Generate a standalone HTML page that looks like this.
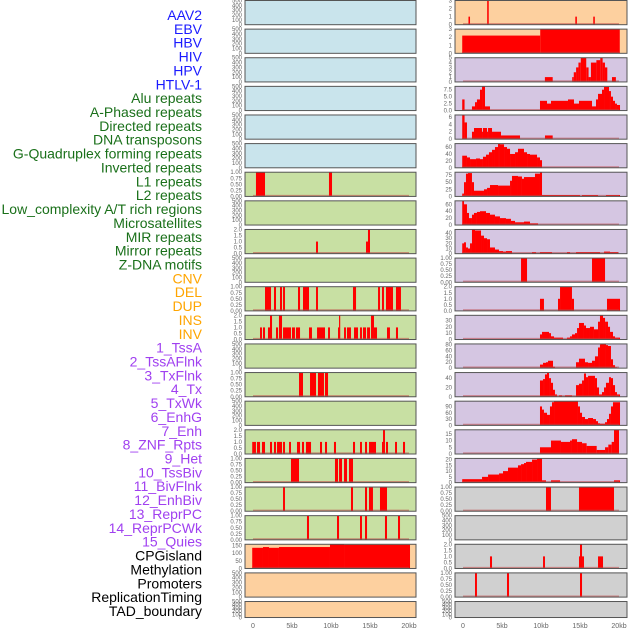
<!DOCTYPE html>
<html><head><meta charset="utf-8"><style>
html,body{margin:0;padding:0;background:#fff;}
svg{display:block;font-family:"Liberation Sans",sans-serif;}
</style></head><body>
<svg id="chart" width="630" height="630" viewBox="0 0 630 630"></svg>
<script>
const labels = ["AAV2","EBV","HBV","HIV","HPV","HTLV-1","Alu repeats","A-Phased repeats","Directed repeats","DNA transposons","G-Quadruplex forming repeats","Inverted repeats","L1 repeats","L2 repeats","Low_complexity A/T rich regions","Microsatellites","MIR repeats","Mirror repeats","Z-DNA motifs","CNV","DEL","DUP","INS","INV","1_TssA","2_TssAFlnk","3_TxFlnk","4_Tx","5_TxWk","6_EnhG","7_Enh","8_ZNF_Rpts","9_Het","10_TssBiv","11_BivFlnk","12_EnhBiv","13_ReprPC","14_ReprPCWk","15_Quies","CPGisland","Methylation","Promoters","ReplicationTiming","TAD_boundary"];
const labelGroups = ["v","v","v","v","v","v","r","r","r","r","r","r","r","r","r","r","r","r","r","s","s","s","s","s","c","c","c","c","c","c","c","c","c","c","c","c","c","c","c","o","o","o","o","o"];
const xTicks = [0,5,10,15,20];
const xTickLabels = ["0","5kb","10kb","15kb","20kb"];
const tEmpty=[0,100,200,300,400,500], tQ=[0,0.25,0.5,0.75,1], tH=[0,0.5,1,1.5,2];
const tQL=["0.00","0.25","0.50","0.75","1.00"], tHL=["0.0","0.5","1.0","1.5","2.0"];
const leftData = [
 [],[],[],[],[],[],
 [[0.38,1.54,1],[9.74,10.13,1]],
 [],
 [[8.08,8.33,1],[14.49,14.74,1],[14.74,15.0,2]],
 [],
 [[1.54,2.31,1],[2.69,2.95,1],[3.46,3.72,1],[3.85,4.1,1],[5.77,6.03,1],[6.41,7.18,1],[8.08,8.33,1],[12.82,13.21,1],[16.03,16.28,1],[16.54,16.79,1],[17.05,17.95,1],[18.33,18.97,1]],
 [[0.9,1.15,1],[1.28,1.54,1],[1.92,2.18,1],[2.18,2.44,2],[2.95,3.21,1],[3.33,3.72,2],[3.85,4.87,1],[5.0,5.38,1],[5.51,6.03,1],[7.18,7.56,1],[8.21,9.23,1],[9.62,9.87,1],[10.9,11.03,1],[11.03,11.15,2],[11.67,11.92,1],[12.05,12.56,1],[12.95,13.46,1],[13.72,13.97,1],[14.1,14.49,1],[14.62,15.0,1],[15.13,15.51,2],[15.51,15.9,1],[17.18,17.56,1],[18.33,18.59,1]],
 [],
 [[5.9,6.41,1],[7.31,8.08,1],[8.33,9.1,1],[9.23,9.62,1]],
 [],
 [[-0.1,0.38,1],[0.51,0.9,1],[1.15,1.54,1],[2.18,2.44,1],[2.69,2.95,1],[3.08,3.72,1],[3.85,4.1,1],[4.62,4.87,1],[5.64,6.03,1],[6.28,6.54,1],[6.79,7.44,1],[8.59,8.85,1],[9.23,9.49,1],[10.38,10.64,1],[12.82,13.08,1],[13.72,13.97,1],[14.36,14.62,1],[14.87,15.77,1],[16.54,16.67,1],[16.67,16.92,2],[17.05,17.31,1],[18.21,18.46,1],[19.23,19.49,1]],
 [[4.87,5.9,1],[10.51,10.9,1],[11.03,11.41,1],[11.67,12.05,1],[12.31,12.82,1]],
 [[3.85,4.1,1],[12.56,12.82,1],[14.36,14.62,1],[14.87,15.38,1],[16.28,17.18,1]],
 [[6.92,7.18,1],[10.77,11.03,1],[13.72,13.97,1],[14.36,14.62,1],[16.92,17.18,1],[18.59,18.85,1]],
 [[-0.1,1.28,135],[1.28,2.05,140],[2.05,3.33,135],[3.33,9.87,140],[9.87,11.67,158],[11.67,20.13,155]],
 [],[]
];
const rightData = [
 [[0.7,0.9,1],[3.1,3.3,3],[14.4,14.6,1],[16.7,16.9,1]],
 [[-0.1,9.9,2.2],[9.9,20.1,3]],
 [[10.5,11.5,1],[14.0,14.2,1],[14.2,14.5,2],[14.5,14.8,3],[14.8,15.1,4],[15.1,15.8,5],[15.8,16.1,3],[16.1,16.4,1],[16.4,17.1,4],[17.1,17.6,4.5],[17.6,17.9,5],[17.9,18.2,4],[18.2,18.5,3],[19.1,19.6,1]],
 [[-0.1,0.2,4],[1.15,1.54,1.5],[1.54,1.79,3],[1.79,2.18,4],[2.18,2.44,7.5],[2.44,2.82,8.7],[2.82,3.46,1.5],[9.87,10.77,3.5],[10.77,11.28,2.5],[11.28,13.46,3.5],[13.46,14.23,4],[14.23,14.87,2.5],[14.87,16.54,3.5],[16.54,17.05,1.5],[17.05,17.31,4],[17.31,17.82,6],[17.82,18.08,7.5],[18.08,18.72,8.5],[18.72,18.97,7],[18.97,19.23,5],[19.23,19.49,3.5],[19.49,19.74,2.5],[19.74,20.13,2]],
 [[-0.1,0.2,6.5],[0.2,0.51,4.5],[1.15,1.41,2],[1.41,2.44,3],[2.44,2.56,2],[2.56,3.08,3],[3.08,3.21,2],[3.21,3.72,3],[3.72,4.87,2],[4.87,7.31,1],[10.51,11.5,1]],
 [[-0.1,0.51,35],[0.51,0.9,30],[0.9,1.67,25],[1.67,2.18,27],[2.18,2.56,25],[2.56,2.95,32],[2.95,3.33,38],[3.33,3.72,45],[3.72,4.1,52],[4.1,4.49,60],[4.49,4.74,70],[4.74,5.26,68],[5.26,5.64,60],[5.64,6.03,55],[6.03,6.67,40],[6.67,7.05,45],[7.05,7.82,55],[7.82,8.21,45],[8.21,8.59,40],[8.59,9.49,38],[9.49,9.87,30],[9.87,10.13,22]],
 [[-0.1,0.13,10],[0.13,0.38,50],[0.38,0.64,80],[0.64,1.15,82],[1.15,1.41,50],[1.41,2.69,20],[2.69,3.08,25],[3.08,3.46,30],[3.46,4.49,40],[4.49,6.03,38],[6.03,6.28,55],[6.28,7.05,72],[7.05,7.56,70],[7.56,7.82,62],[7.82,9.23,68],[9.23,9.87,80],[9.87,10.13,85],[10.13,15.0,5],[15.26,17.31,5],[18.33,20.13,5]],
 [[-0.1,0.13,70],[0.13,0.51,60],[0.51,0.77,35],[0.77,1.15,20],[1.15,1.41,30],[1.41,1.79,35],[1.79,2.18,38],[2.18,2.95,40],[2.95,3.46,35],[3.46,4.1,30],[4.1,4.74,25],[4.74,5.51,20],[5.51,6.15,18],[6.15,6.67,12],[6.67,7.82,8],[7.82,8.59,10],[8.59,9.62,5]],
 [[-0.1,0.13,20],[0.13,0.38,22],[0.38,0.64,12],[0.64,0.9,10],[0.9,1.15,20],[1.15,1.54,47],[1.54,2.31,45],[2.31,2.69,35],[2.69,3.08,30],[3.08,3.46,28],[3.46,4.1,12],[4.1,4.62,8],[4.62,5.13,5],[5.13,5.51,4],[5.51,6.28,5],[8.85,9.36,3],[9.87,11.41,3],[13.33,13.72,3],[14.49,17.56,3],[18.08,18.85,4],[18.85,19.87,3]],
 [[7.44,8.21,1],[16.54,18.21,1]],
 [[9.87,10.38,1],[12.18,12.44,1],[12.44,13.97,2],[13.97,14.23,1],[18.46,20.13,1]],
 [[9.87,10.13,8],[10.13,11.03,12],[11.03,11.28,10],[11.28,11.67,5],[11.67,12.82,3],[13.33,13.72,3],[13.72,13.97,5],[13.97,14.36,8],[14.36,14.62,10],[14.62,14.87,18],[14.87,15.51,26],[15.51,15.77,22],[15.77,16.28,18],[16.28,16.79,20],[16.79,17.31,16],[17.31,17.56,28],[17.56,17.95,38],[17.95,18.21,34],[18.21,18.59,28],[18.59,18.85,20],[18.85,19.23,12],[19.23,19.49,5],[19.49,20.13,3]],
 [[9.87,10.26,12],[10.26,10.64,18],[10.64,10.9,20],[10.9,11.54,25],[11.54,11.79,5],[14.49,14.87,20],[14.87,15.64,32],[15.64,16.03,20],[16.03,16.54,18],[16.54,16.92,25],[16.92,17.31,40],[17.31,17.56,70],[17.56,17.69,80],[17.69,18.33,82],[18.33,18.59,78],[18.59,18.97,75],[18.97,19.23,30],[19.23,19.49,10],[19.49,19.74,3]],
 [[9.87,10.26,35],[10.26,10.51,38],[10.51,10.77,48],[10.77,11.03,52],[11.03,11.28,40],[11.28,11.54,30],[11.54,11.79,15],[11.79,12.05,5],[12.31,12.69,3],[13.08,13.97,3],[14.49,14.87,25],[14.87,15.26,28],[15.26,15.51,35],[15.51,15.77,50],[15.77,16.03,42],[16.03,16.92,45],[16.92,17.18,40],[17.18,17.44,20],[17.44,17.82,5],[17.82,18.08,10],[18.08,18.33,20],[18.33,18.72,30],[18.72,18.97,42],[18.97,19.23,40],[19.23,19.49,25],[19.49,19.74,10],[19.74,20.13,5]],
 [[9.87,10.13,90],[10.13,10.38,75],[10.38,10.77,60],[10.77,11.15,50],[11.15,11.41,90],[11.41,11.67,110],[11.67,14.74,115],[14.74,15.0,90],[15.0,15.26,60],[15.26,15.64,40],[15.64,16.03,30],[16.03,16.67,35],[16.67,17.05,30],[17.05,17.31,20],[17.31,17.56,10],[17.56,18.21,8],[18.21,18.46,15],[18.46,18.72,30],[18.72,18.97,55],[18.97,19.23,90],[19.23,20.13,110]],
 [[9.87,11.28,5],[11.28,12.56,10],[12.56,13.72,9],[13.72,13.97,10],[13.97,14.62,11],[14.62,15.26,9],[15.26,15.85,8],[15.85,17.14,6],[17.14,17.56,3],[17.56,18.21,3],[18.21,18.63,5],[18.63,19.06,7],[19.06,19.36,9],[19.36,20.0,18]],
 [[-0.1,2.44,3],[2.44,3.21,5],[3.21,4.62,7],[4.62,5.13,8],[5.13,5.77,10],[5.77,7.05,13],[7.05,7.44,15],[7.44,7.82,16],[7.82,8.08,17],[8.08,8.85,18],[8.85,9.49,20],[9.49,10.13,21],[10.13,10.64,2],[11.28,12.44,2],[19.36,20.13,2]],
 [[10.64,11.28,1],[14.87,19.36,1]],
 [],
 [[3.46,3.72,1],[10.26,10.51,1],[14.87,15.0,1],[15.0,15.26,2],[15.26,15.51,1],[17.31,17.95,1]],
 [[1.54,1.79,1],[5.64,5.9,1],[15.0,15.26,1]],
 []
];
const rightTicks = [[0,1,2,3],[0,1,2,3],[0,1,2,3,4,5],[0,2.5,5,7.5],[0,2,4,6],[0,20,40,60],[0,25,50,75],[0,20,40,60],[0,10,20,30,40],tQ,tH,[0,10,20,30],[0,20,40,60,80],[0,20,40],[0,30,60,90],[0,5,10,15],[0,5,10,15,20],tQ,tEmpty,tH,tQ,tEmpty];
const rightTickLabels = [null,null,null,["0.0","2.5","5.0","7.5"],null,null,null,null,null,tQL,tHL,null,null,null,null,null,null,tQL,null,tHL,tQL,null];
const leftTicks = [tEmpty,tEmpty,tEmpty,tEmpty,tEmpty,tEmpty,tQ,tEmpty,tH,tEmpty,tQ,tH,tEmpty,tQ,tEmpty,tH,tQ,tQ,tQ,[0,50,100,150],tEmpty,tEmpty];
const leftTickLabels = [null,null,null,null,null,null,tQL,null,tHL,null,tQL,tHL,null,tQL,null,tHL,tQL,tQL,tQL,null,null,null];
const leftColors = ["#c9e4ec","#c9e4ec","#c9e4ec","#c9e4ec","#c9e4ec","#c9e4ec","#c8e0a3","#c8e0a3","#c8e0a3","#c8e0a3","#c8e0a3","#c8e0a3","#c8e0a3","#c8e0a3","#c8e0a3","#c8e0a3","#c8e0a3","#c8e0a3","#c8e0a3","#fdd09f","#fdd09f","#fdd09f"];
const rightColors = ["#fdd09f","#fdd09f","#d5c6e2","#d5c6e2","#d5c6e2","#d5c6e2","#d5c6e2","#d5c6e2","#d5c6e2","#d5c6e2","#d5c6e2","#d5c6e2","#d5c6e2","#d5c6e2","#d5c6e2","#d5c6e2","#d5c6e2","#d0d0d0","#d0d0d0","#d0d0d0","#d0d0d0","#d0d0d0"];

const NS="http://www.w3.org/2000/svg";
const svg=document.getElementById('chart');
function mk(tag,attrs,parent){const e=document.createElementNS(NS,tag);for(const k in attrs)e.setAttribute(k,attrs[k]);(parent||svg).appendChild(e);return e;}
const groupColor={v:"#1a1aff",r:"#1a701a",s:"#ffa500",c:"#a040f0",o:"#000000"};
labels.forEach((t,i)=>{
  const el=mk('text',{x:202,y:15+13.86*i+5,'text-anchor':'end','font-size':14,fill:groupColor[labelGroups[i]]});
  el.textContent=t;
  
  
});
const cols=[{x0:245,x1:416,z:253,data:leftData,ticks:leftTicks,tl:leftTickLabels,colors:leftColors,name:'left'},
            {x0:455,x1:627,z:463,data:rightData,ticks:rightTicks,tl:rightTickLabels,colors:rightColors,name:'right'}];
const KB=7.8;
cols.forEach(c=>{
  const xs=kb=>c.z+kb*KB;
  for(let r=0;r<22;r++){
    const top=28.62*r+0.5, h=(r===21?16:24.2), bot=top+h;
    const data=c.data[r], ticks=c.ticks[r];
    const ymax=data.length?Math.max(ticks[ticks.length-1],...data.map(d=>d[2])):ticks[ticks.length-1];
    const ys=v=>bot-v/ymax*h;
    const g=mk('g',{});
    
    
    mk('rect',{x:c.x0,y:top,width:c.x1-c.x0,height:h,fill:c.colors[r]},g);
    data.forEach((d,k)=>{
      const x1=Math.max(xs(d[0]),c.x0+1);
      const b=mk('rect',{x:x1,y:ys(d[2]),width:Math.max(xs(d[1])-x1,1.2),height:bot-ys(d[2]),fill:'#ff0000'},g);
      
      
    });
    if(data.length){mk('line',{x1:xs(0),x2:xs(20),y1:bot-0.8,y2:bot-0.8,stroke:'rgba(190,70,70,0.55)','stroke-width':1.6},g);}
    mk('rect',{x:c.x0,y:top,width:c.x1-c.x0,height:h,fill:'none',stroke:'#555','stroke-width':1},g);
    ticks.forEach((t,k)=>{
      const tx=mk('text',{x:c.x0-3,y:ys(t)+2,'text-anchor':'end','font-size':6,fill:'#666'},g);
      tx.textContent=c.tl[r]?c.tl[r][k]:String(t);
      
      
    });
  }
  xTicks.forEach((t,k)=>{
    const tx=mk('text',{x:xs(t),y:628,'text-anchor':'middle','font-size':7,fill:'#666'});
    tx.textContent=xTickLabels[k];
    
    
  });
});
</script>
</body></html>
